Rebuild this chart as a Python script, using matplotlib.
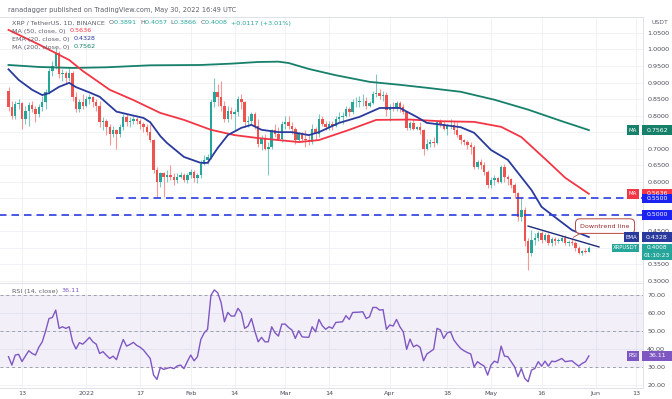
import numpy as np
import pandas as pd
import matplotlib
matplotlib.use('Agg')
import matplotlib.pyplot as plt
from matplotlib.patches import Rectangle
from matplotlib.colors import to_rgba

# ---------------- data ----------------
start_date = '2021-12-09'
end_date = '2022-05-30'

opens = [0.875, 0.826, 0.800, 0.835,
         0.838, 0.790, 0.815, 0.832, 0.820, 0.806, 0.825,
         0.840, 0.870, 0.935, 0.950, 0.990, 0.925, 0.928,
         0.915, 0.930, 0.855, 0.820, 0.840,
         0.830, 0.850, 0.855, 0.840, 0.830, 0.780, 0.785,
         0.765, 0.745, 0.755, 0.745, 0.765, 0.795, 0.780,
         0.785, 0.790, 0.785, 0.775, 0.765, 0.750, 0.725,
         0.635, 0.598, 0.625, 0.615, 0.620, 0.615, 0.605,
         0.615, 0.620, 0.605,
         0.620, 0.630, 0.612, 0.620, 0.655, 0.665, 0.675,
         0.840, 0.870, 0.855, 0.830, 0.790, 0.815, 0.805,
         0.810, 0.850, 0.840, 0.780, 0.785, 0.805, 0.770,
         0.715, 0.730, 0.700, 0.705, 0.755, 0.745, 0.730,
         0.775, 0.780, 0.770, 0.760, 0.725, 0.745, 0.730,
         0.725, 0.720, 0.760, 0.745, 0.790, 0.775, 0.765,
         0.775, 0.770, 0.790, 0.795, 0.798, 0.820, 0.810,
         0.840, 0.842, 0.843, 0.845, 0.830, 0.838, 0.865,
         0.868, 0.860, 0.862,
         0.818, 0.826, 0.824, 0.838, 0.826, 0.812, 0.762,
         0.778, 0.760, 0.765, 0.755, 0.700, 0.715, 0.720,
         0.718, 0.780, 0.775, 0.760, 0.770, 0.772, 0.755,
         0.740, 0.725, 0.720, 0.712, 0.705, 0.645, 0.660,
         0.650, 0.630,
         0.590, 0.605, 0.610, 0.600, 0.645, 0.615, 0.608,
         0.590, 0.565, 0.495, 0.515, 0.420, 0.385, 0.425,
         0.430, 0.445, 0.425, 0.440, 0.415, 0.428, 0.420,
         0.422, 0.430, 0.415, 0.418, 0.415, 0.400, 0.385,
         0.390, 0.3891]

closes = [0.826, 0.800, 0.835, 0.838,
          0.790, 0.815, 0.832, 0.820, 0.806, 0.825, 0.840,
          0.870, 0.935, 0.950, 0.990, 0.925, 0.928, 0.915,
          0.930, 0.855, 0.820, 0.840, 0.830,
          0.850, 0.855, 0.840, 0.830, 0.780, 0.785, 0.765,
          0.745, 0.755, 0.745, 0.765, 0.795, 0.780, 0.785,
          0.790, 0.785, 0.775, 0.765, 0.750, 0.725, 0.635,
          0.598, 0.625, 0.615, 0.620, 0.615, 0.605, 0.615,
          0.620, 0.605, 0.620,
          0.630, 0.612, 0.620, 0.655, 0.665, 0.675, 0.840,
          0.870, 0.855, 0.830, 0.790, 0.815, 0.805, 0.810,
          0.850, 0.840, 0.780, 0.785, 0.805, 0.770, 0.715,
          0.730, 0.700, 0.705, 0.755, 0.745, 0.730, 0.775,
          0.780, 0.770, 0.760, 0.725, 0.745, 0.730, 0.725,
          0.720, 0.760, 0.745, 0.790, 0.775, 0.765, 0.775,
          0.770, 0.790, 0.795, 0.798, 0.820, 0.810, 0.840,
          0.842, 0.843, 0.845, 0.830, 0.838, 0.865, 0.868,
          0.860, 0.862, 0.818,
          0.826, 0.824, 0.838, 0.826, 0.812, 0.762, 0.778,
          0.760, 0.765, 0.755, 0.700, 0.715, 0.720, 0.718,
          0.780, 0.775, 0.760, 0.770, 0.772, 0.755, 0.740,
          0.725, 0.720, 0.712, 0.705, 0.645, 0.660, 0.650,
          0.630, 0.590,
          0.605, 0.610, 0.600, 0.645, 0.615, 0.608, 0.590,
          0.565, 0.495, 0.515, 0.420, 0.385, 0.425, 0.430,
          0.445, 0.425, 0.440, 0.415, 0.428, 0.420, 0.422,
          0.430, 0.415, 0.418, 0.415, 0.400, 0.385, 0.390,
          0.3891, 0.4008]

highs = [0.885, 0.845, 0.845, 0.850,
         0.842, 0.830, 0.840, 0.845, 0.830, 0.835, 0.860,
         0.880, 0.945, 0.965, 1.005, 0.995, 0.940, 0.935,
         0.945, 0.935, 0.870, 0.850, 0.865,
         0.860, 0.865, 0.860, 0.850, 0.845, 0.795, 0.790,
         0.775, 0.770, 0.760, 0.775, 0.805, 0.805, 0.795,
         0.800, 0.795, 0.790, 0.780, 0.775, 0.775, 0.730,
         0.645, 0.630, 0.630, 0.635, 0.650, 0.625, 0.625,
         0.630, 0.625, 0.625,
         0.640, 0.635, 0.625, 0.665, 0.680, 0.685, 0.850,
         0.915, 0.895, 0.905, 0.845, 0.830, 0.825, 0.820,
         0.860, 0.865, 0.845, 0.800, 0.810, 0.810, 0.790,
         0.740, 0.745, 0.720, 0.760, 0.775, 0.765, 0.785,
         0.800, 0.800, 0.780, 0.765, 0.750, 0.750, 0.755,
         0.740, 0.775, 0.765, 0.805, 0.800, 0.785, 0.785,
         0.785, 0.800, 0.810, 0.810, 0.830, 0.825, 0.850,
         0.855, 0.860, 0.865, 0.855, 0.845, 0.875, 0.925,
         0.880, 0.875, 0.870,
         0.835, 0.840, 0.845, 0.845, 0.835, 0.815, 0.785,
         0.790, 0.770, 0.780, 0.760, 0.730, 0.730, 0.735,
         0.785, 0.790, 0.785, 0.775, 0.790, 0.785, 0.780,
         0.745, 0.730, 0.725, 0.720, 0.710, 0.665, 0.670,
         0.660, 0.635,
         0.615, 0.620, 0.615, 0.650, 0.655, 0.620, 0.610,
         0.595, 0.570, 0.550, 0.525, 0.430, 0.455, 0.445,
         0.450, 0.450, 0.445, 0.445, 0.432, 0.432, 0.430,
         0.435, 0.440, 0.425, 0.430, 0.420, 0.405, 0.395,
         0.400, 0.4057]

lows = [0.815, 0.790, 0.790, 0.820,
        0.760, 0.775, 0.770, 0.810, 0.780, 0.795, 0.815,
        0.820, 0.865, 0.920, 0.940, 0.915, 0.905, 0.900,
        0.905, 0.845, 0.810, 0.810, 0.820,
        0.825, 0.835, 0.825, 0.815, 0.765, 0.755, 0.740,
        0.710, 0.735, 0.700, 0.735, 0.755, 0.770, 0.765,
        0.775, 0.775, 0.760, 0.750, 0.740, 0.720, 0.625,
        0.555, 0.585, 0.555, 0.600, 0.605, 0.590, 0.595,
        0.610, 0.600, 0.595,
        0.610, 0.600, 0.595, 0.610, 0.650, 0.655, 0.670,
        0.825, 0.830, 0.815, 0.780, 0.780, 0.790, 0.755,
        0.800, 0.820, 0.765, 0.765, 0.775, 0.760, 0.705,
        0.695, 0.695, 0.620, 0.700, 0.735, 0.725, 0.720,
        0.760, 0.760, 0.745, 0.715, 0.720, 0.720, 0.705,
        0.710, 0.715, 0.725, 0.735, 0.770, 0.755, 0.755,
        0.755, 0.765, 0.780, 0.775, 0.795, 0.800, 0.805,
        0.825, 0.825, 0.830, 0.820, 0.825, 0.835, 0.855,
        0.850, 0.845, 0.800,
        0.785, 0.815, 0.815, 0.810, 0.805, 0.755, 0.755,
        0.755, 0.755, 0.745, 0.680, 0.695, 0.705, 0.705,
        0.715, 0.765, 0.755, 0.740, 0.760, 0.745, 0.735,
        0.715, 0.710, 0.700, 0.685, 0.640, 0.640, 0.640,
        0.620, 0.580,
        0.580, 0.590, 0.595, 0.595, 0.600, 0.590, 0.580,
        0.550, 0.480, 0.480, 0.405, 0.333, 0.375, 0.410,
        0.420, 0.415, 0.420, 0.410, 0.405, 0.410, 0.415,
        0.418, 0.410, 0.405, 0.410, 0.390, 0.382, 0.380,
        0.384, 0.3866]

rsi = [35.7, 31, 36.6, 37,
       33, 36, 39, 37.5, 36.6, 41, 44,
       50, 57, 57.6, 61.7, 51.5, 52.4, 51.5,
       52.4, 44, 40, 43.5, 42.7,
       44.5, 46.5, 44, 42.7, 37.5, 38.5, 36.5,
       34.7, 36, 34, 40, 45.3, 41.6, 42.5,
       43.7, 42, 41, 39.4, 37, 34.7, 25.4,
       23, 29.7, 28.6, 29.2, 29.7, 29, 30.5,
       31, 29, 33,
       36.6, 33.4, 35.7, 45.3, 49, 51, 70,
       73, 71.4, 66, 55.2, 60.4, 58.4, 58.4,
       62.7, 60.2, 51.5, 52.8, 57, 50, 44,
       46.5, 44, 44, 52.4, 49, 47.2, 53.9,
       53.9, 52, 50.6, 45.9, 50.2, 46.8, 46.6,
       46.5, 52.4, 49.6, 56.5, 53, 51, 52.4,
       51.5, 54.8, 55, 55.2, 58.6, 56.5, 60.4,
       60.5, 60.6, 60.8, 57, 58, 63.2, 63.2,
       61.7, 62, 51,
       53.4, 52.8, 56.5, 52.4, 49.6, 39.8, 45.5,
       41.2, 42.2, 40.9, 33.4, 37.2, 38.5, 39.8,
       51.5, 50.6, 45.9, 49, 49.6, 45, 42.5,
       40.3, 39, 38, 37.2, 30, 32.9, 31.5,
       30.4, 25.4,
       31, 33.2, 32.3, 41.6, 36, 35.7, 32.9,
       30, 24.5, 29.1, 23.6, 21.7, 28.2, 29.1,
       32.9, 30.4, 33.2, 30.4, 33.2, 32.9, 33.8,
       34.7, 32.9, 33.2, 33.4, 31.8, 30.4, 31.9,
       32.9, 36.11]

ma200_dates = ['2021-12-09', '2021-12-18', '2021-12-28', '2022-01-07', '2022-01-20',
               '2022-02-04', '2022-02-13', '2022-02-21', '2022-02-27', '2022-03-02',
               '2022-03-05', '2022-03-08', '2022-03-16', '2022-03-26', '2022-04-04',
               '2022-04-12', '2022-04-22', '2022-05-02', '2022-05-12', '2022-05-22',
               '2022-05-30']
ma200_vals = [0.953, 0.947, 0.944, 0.946, 0.952, 0.953, 0.957, 0.962, 0.963, 0.959,
              0.950, 0.941, 0.922, 0.902, 0.893, 0.884, 0.872, 0.848, 0.818, 0.783,
              0.7562]

ma50_dates = ['2021-12-09', '2021-12-18', '2021-12-27', '2021-12-31', '2022-01-08',
              '2022-01-15', '2022-01-23', '2022-01-30', '2022-02-07', '2022-02-14',
              '2022-02-21', '2022-03-05', '2022-03-11', '2022-03-20', '2022-03-28',
              '2022-04-07', '2022-04-16', '2022-04-26', '2022-05-04', '2022-05-10',
              '2022-05-18', '2022-05-23', '2022-05-30']
ma50_vals = [1.059, 1.015, 0.968, 0.935, 0.878, 0.847, 0.808, 0.787, 0.757, 0.741,
             0.732, 0.720, 0.726, 0.757, 0.787, 0.788, 0.783, 0.781, 0.766, 0.735,
             0.660, 0.612, 0.5636]

ema20_dates = ['2021-12-09', '2021-12-12', '2021-12-16', '2021-12-19', '2021-12-21',
               '2021-12-24', '2021-12-27', '2021-12-29', '2022-01-02', '2022-01-05',
               '2022-01-10', '2022-01-15', '2022-01-18', '2022-01-20', '2022-01-23',
               '2022-01-25', '2022-01-30', '2022-02-04', '2022-02-06', '2022-02-09',
               '2022-02-12', '2022-02-16', '2022-02-19', '2022-02-22', '2022-02-27',
               '2022-03-03', '2022-03-08', '2022-03-11', '2022-03-17', '2022-03-23',
               '2022-03-29', '2022-04-04', '2022-04-09', '2022-04-12', '2022-04-22',
               '2022-04-26', '2022-05-01', '2022-05-06', '2022-05-09', '2022-05-13',
               '2022-05-16', '2022-05-21', '2022-05-25', '2022-05-30']
ema20_vals = [0.940, 0.908, 0.878, 0.862, 0.868, 0.887, 0.899, 0.886, 0.870, 0.857,
              0.812, 0.800, 0.793, 0.780, 0.738, 0.717, 0.675, 0.657, 0.657, 0.702,
              0.741, 0.763, 0.772, 0.757, 0.750, 0.750, 0.741, 0.750, 0.778, 0.796,
              0.823, 0.823, 0.796, 0.778, 0.765, 0.748, 0.696, 0.666, 0.627, 0.575,
              0.524, 0.485, 0.454, 0.4328]

level_prices = [0.55, 0.50]
level_starts = ['2022-01-10', '2021-12-05']

trend_dates = ['2022-05-12', '2022-06-02']
trend_prices = [0.466, 0.403]

tick_dates = ['2021-12-13', '2022-01-01', '2022-01-17', '2022-02-01', '2022-02-14',
              '2022-03-01', '2022-03-14', '2022-04-01', '2022-04-18', '2022-05-01',
              '2022-05-16', '2022-06-01', '2022-06-13']
tick_labels = ['13', '2022', '17', 'Feb', '14', 'Mar', '14', 'Apr', '18', 'May', '16', 'Jun', '13']

price_ticks = [0.30, 0.35, 0.40, 0.45, 0.50, 0.55, 0.60, 0.65, 0.70, 0.75, 0.80, 0.85,
               0.90, 0.95, 1.00, 1.05]
hidden_price_ticks = [0.40, 0.50, 0.55, 0.75]
rsi_ticks = [20, 30, 40, 50, 60, 70]

# ---------------- styling ----------------
W, H = 672, 399
GREEN = '#26a69a'
RED = '#ef5350'
MA50_C = '#f23645'
EMA_C = '#2a3a9c'
MA200_C = '#16806a'
LEVEL_C = '#2d3de0'
RSI_C = '#7e57c2'
GRID_C = '#eef0f5'
TXT_C = '#4a4e59'

base = pd.Timestamp('2021-12-13')


def dn(s):
    return (pd.Timestamp(s) - base).days


dates = pd.date_range(start_date, end_date)
x = np.array([(d - base).days for d in dates], dtype=float)
o = np.array(opens); c = np.array(closes); hi = np.array(highs); lo = np.array(lows)

fig = plt.figure(figsize=(W / 100, H / 100), dpi=100)
fig.patch.set_facecolor('white')

ax = fig.add_axes([0, 1 - 283 / H, 643 / W, 266 / H])
ax2 = fig.add_axes([0, 1 - 388 / H, 643 / W, 104 / H], sharex=ax)

XMIN, XMAX = -6.52, 184.05
ax.set_xlim(XMIN, XMAX)
ax.set_ylim(0.294, 1.098)
ax2.set_ylim(18.2, 76.3)

for a in (ax, ax2):
    a.set_facecolor('white')
    a.spines['left'].set_visible(False)
    for s in ('top', 'right', 'bottom'):
        a.spines[s].set_color('#dfe2ea')
        a.spines[s].set_linewidth(0.7)
    a.yaxis.tick_right()
    a.tick_params(axis='both', length=0, labelsize=4.6, colors=TXT_C, pad=3)
    a.set_xticks([dn(t) for t in tick_dates])
    a.grid(True, color=GRID_C, linewidth=0.6, zorder=0)
    a.set_axisbelow(True)

ax.tick_params(labelbottom=False)
ax2.spines['top'].set_visible(False)
ax2.set_xticklabels(tick_labels)
ax2.tick_params(axis='x', pad=2.5)

ax.set_yticks(price_ticks)
ax.set_yticklabels(['' if any(abs(p - h) < 1e-9 for h in hidden_price_ticks) else f'{p:.4f}'
                    for p in price_ticks])
ax2.set_yticks(rsi_ticks)
ax2.set_yticklabels([f'{v:.2f}' for v in rsi_ticks])

# candles
up = c >= o
cols = np.where(up, GREEN, RED)
wick_cols = [to_rgba(col, 0.6) for col in cols]
ax.vlines(x, lo, hi, colors=wick_cols, linewidth=0.8, zorder=2)
body = np.maximum(np.abs(c - o), 0.0025)
ax.bar(x, body, bottom=np.minimum(o, c), width=0.72, color=cols, linewidth=0, zorder=3)

# indicators
ax.plot([dn(d) for d in ma200_dates], ma200_vals, color=MA200_C, lw=1.3, zorder=4)
ax.plot([dn(d) for d in ma50_dates], ma50_vals, color=MA50_C, lw=1.3, zorder=4)
ax.plot([dn(d) for d in ema20_dates], ema20_vals, color=EMA_C, lw=1.3, zorder=4)

# horizontal levels
for lvl, st in zip(level_prices, level_starts):
    ax.hlines(lvl, dn(st), XMAX, colors=LEVEL_C, linestyles=(0, (4.5, 3)), lw=1.2, zorder=4)

# downtrend line
ax.plot([dn(d) for d in trend_dates], trend_prices, color='#1f2a78', lw=1.0, zorder=5)
ax.annotate('', xy=(162.7, 0.428), xytext=(166.3, 0.449),
            arrowprops=dict(arrowstyle='-', color='#b5473f', lw=0.6), zorder=6)
ax.text(172.8, 0.466, 'Downtrend line', fontsize=4.6, color='#9a2a2a', ha='center', va='center',
        zorder=7, bbox=dict(boxstyle='round,pad=0.75,rounding_size=0.7', fc='white',
                            ec='#b5473f', lw=0.7))

# rsi panel
ax2.axhspan(30, 70, color=RSI_C, alpha=0.09, lw=0, zorder=1)
for lv in (70, 50, 30):
    ax2.axhline(lv, color='#9da0aa', lw=0.7, ls=(0, (3, 3)), zorder=2)
ax2.plot(x, rsi, color=RSI_C, lw=1.0, zorder=3)

# ---------------- text ----------------
renderer = fig.canvas.get_renderer()


def put_segments(xp, yp, segs, fs=4.6):
    cur = xp
    for s, col in segs:
        t = fig.text(cur / W, 1 - yp / H, s, fontsize=fs, color=col, ha='left', va='center')
        bb = t.get_window_extent(renderer=renderer)
        cur += bb.width


GRAY = '#5d606b'
fig.text(8 / W, 1 - 10 / H, 'ranadagger published on TradingView.com, May 30, 2022 16:49 UTC',
         fontsize=4.8, color=GRAY, ha='left', va='center')
put_segments(12, 23, [('XRP / TetherUS, 1D, BINANCE  ', GRAY), ('O', GRAY), ('0.3891  ', GREEN),
                      ('H', GRAY), ('0.4057  ', GREEN), ('L', GRAY), ('0.3866  ', GREEN),
                      ('C', GRAY), ('0.4008  ', GREEN), ('+0.0117 (+3.01%)', GREEN)])
put_segments(12, 31, [('MA (50, close, 0)  ', GRAY), (f'{ma50_vals[-1]:.4f}', MA50_C)])
put_segments(12, 39, [('EMA (20, close, 0)  ', GRAY), (f'{ema20_vals[-1]:.4f}', EMA_C)])
put_segments(12, 47, [('MA (200, close, 0)  ', GRAY), (f'{ma200_vals[-1]:.4f}', MA200_C)])
put_segments(12, 291, [('RSI (14, close)  ', GRAY), (f'{rsi[-1]:.2f}', RSI_C)])
fig.text(652 / W, 1 - 23 / H, 'USDT', fontsize=4.4, color=GRAY, ha='left', va='center')


def ydisp(a, v):
    return a.transData.transform((0, v))[1]


def box(xl, xr, ybot, ytop, color, lines, fs=4.5, tc='white'):
    fig.add_artist(Rectangle((xl / W, ybot / H), (xr - xl) / W, (ytop - ybot) / H,
                             transform=fig.transFigure, facecolor=color, edgecolor='none',
                             zorder=8))
    n = len(lines)
    for i, s in enumerate(lines):
        yy = ytop - (ytop - ybot) * (i + 0.5) / n
        fig.text((xl + xr) / 2 / W, yy / H, s, ha='center', va='center', fontsize=fs,
                 color=tc, zorder=9)


def price_label(a, v, color, tag=None, tag_w=12):
    yc = ydisp(a, v)
    box(642, 672, yc - 4.8, yc + 4.8, color, [f'{v:.4f}' if a is ax else f'{v:.2f}'])
    if tag:
        box(639 - tag_w, 639, yc - 4.8, yc + 4.8, color, [tag], fs=4.0)


price_label(ax, ma200_vals[-1], MA200_C, 'MA')
price_label(ax, ma50_vals[-1], MA50_C, 'MA')
price_label(ax, level_prices[0], '#1c22f0')
price_label(ax, level_prices[1], '#1c22f0')
price_label(ax, ema20_vals[-1], EMA_C, 'EMA', tag_w=15)
yc = ydisp(ax, closes[-1])
box(642, 672, yc - 12, yc + 4, GREEN, [f'{closes[-1]:.4f}', '01:10:23'], fs=4.2)
box(612, 639, yc - 4, yc + 4, GREEN, ['XRPUSDT'], fs=3.8)
price_label(ax2, rsi[-1], RSI_C, 'RSI')

fig.savefig('out.png', dpi=100, facecolor='white')
